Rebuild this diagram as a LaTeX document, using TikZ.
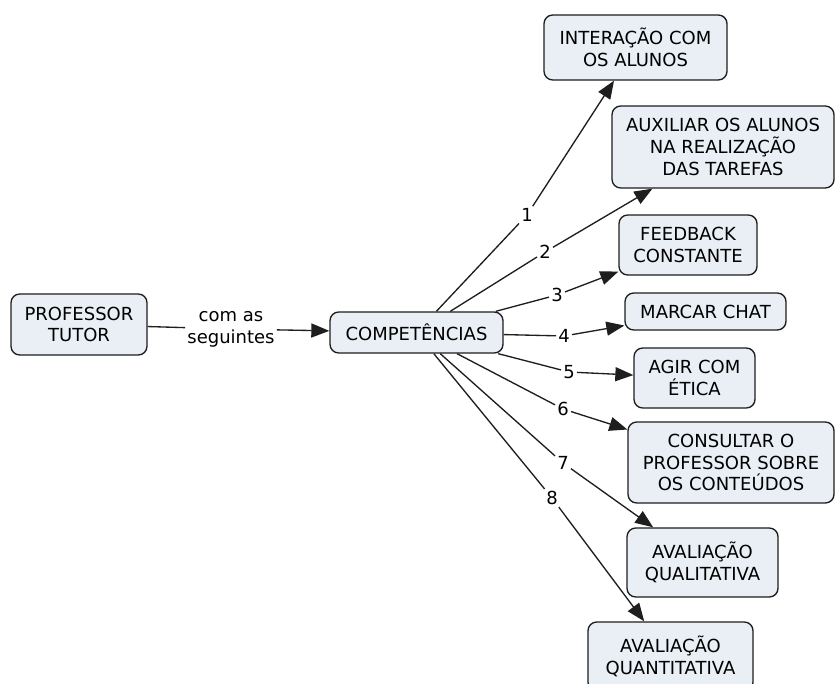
\documentclass[tikz,border=0pt]{standalone}
\usepackage{fontspec}
\setmainfont{DejaVu Sans}
\usetikzlibrary{arrows.meta}
\definecolor{boxfill}{RGB}{233,239,244}
\definecolor{edgecol}{RGB}{30,30,30}
\begin{document}
\begin{tikzpicture}[x=0.75pt,y=-0.75pt,
  txt/.style={font=\fontsize{13.5}{16.4}\selectfont},
  box/.style={txt, draw=edgecol, line width=1pt, fill=boxfill, rounded corners=6.5pt, align=center, inner sep=0pt},
  lab/.style={txt, inner sep=1.5pt, align=center},
  con/.style={line width=1pt, draw=edgecol},
  arr/.style={con, -{Triangle[length=13.5pt,width=10.5pt]}}]
\useasboundingbox[fill=white] (0,0) rectangle (835,684);
\begin{scope}
\clip (0,0) rectangle (835,684);
% nodes
\node[box, minimum width=102pt, minimum height=45.75pt] (prof) at (79,324.5) {PROFESSOR\\TUTOR};
\node[box, minimum width=129.75pt, minimum height=30.75pt] (comp) at (416.5,332.5) {COMPETÊNCIAS};
\node[box, minimum width=137.25pt, minimum height=48.75pt] (int) at (635.5,47.5) {INTERAÇÃO COM\\OS ALUNOS};
\node[box, minimum width=166.5pt, minimum height=61.5pt] (aux) at (723,147) {AUXILIAR OS ALUNOS\\NA REALIZAÇÃO\\DAS TAREFAS};
\node[box, minimum width=103.5pt, minimum height=45pt] (feed) at (688,245) {FEEDBACK\\CONSTANTE};
\node[box, minimum width=120.75pt, minimum height=27.75pt] (marc) at (705.5,311.5) {MARCAR CHAT};
\node[box, minimum width=90.75pt, minimum height=45pt] (agir) at (694.5,378) {AGIR COM\\ÉTICA};
\node[box, minimum width=154.5pt, minimum height=60.75pt] (cons) at (731,462.5) {CONSULTAR O\\PROFESSOR SOBRE\\OS CONTEÚDOS};
\node[box, minimum width=113.25pt, minimum height=51.75pt] (qual) at (702.5,562.5) {AVALIAÇÃO\\QUALITATIVA};
\node[box, minimum width=123.75pt, minimum height=51.75pt] (quan) at (670.5,656.5) {AVALIAÇÃO\\QUANTITATIVA};
% labels
\node[lab] (lc) at (231,329) {com as\\seguintes};
\node[lab] (l1) at (527,215) {1};
\node[lab] (l2) at (545,252) {2};
\node[lab] (l3) at (557,295) {3};
\node[lab] (l4) at (564,336) {4};
\node[lab] (l5) at (569,372) {5};
\node[lab] (l6) at (563,409) {6};
\node[lab] (l7) at (563,463) {7};
\node[lab] (l8) at (552,498) {8};
% connectors
\draw[con] (prof) -- (lc);
\draw[arr] (lc) -- (comp);
\draw[con] (comp) -- (l1); \draw[arr] (l1) -- (int);
\draw[con] (comp) -- (l2); \draw[arr] (l2) -- (aux);
\draw[con] (comp) -- (l3); \draw[arr] (l3) -- (feed);
\draw[con] (comp) -- (l4); \draw[arr] (l4) -- (marc);
\draw[con] (comp) -- (l5); \draw[arr] (l5) -- (agir);
\draw[con] (comp) -- (l6); \draw[arr] (l6) -- (cons);
\draw[con] (comp) -- (l7); \draw[arr] (l7) -- (qual);
\draw[con] (comp) -- (l8); \draw[arr] (l8) -- (quan);
\end{scope}
\end{tikzpicture}
\end{document}
